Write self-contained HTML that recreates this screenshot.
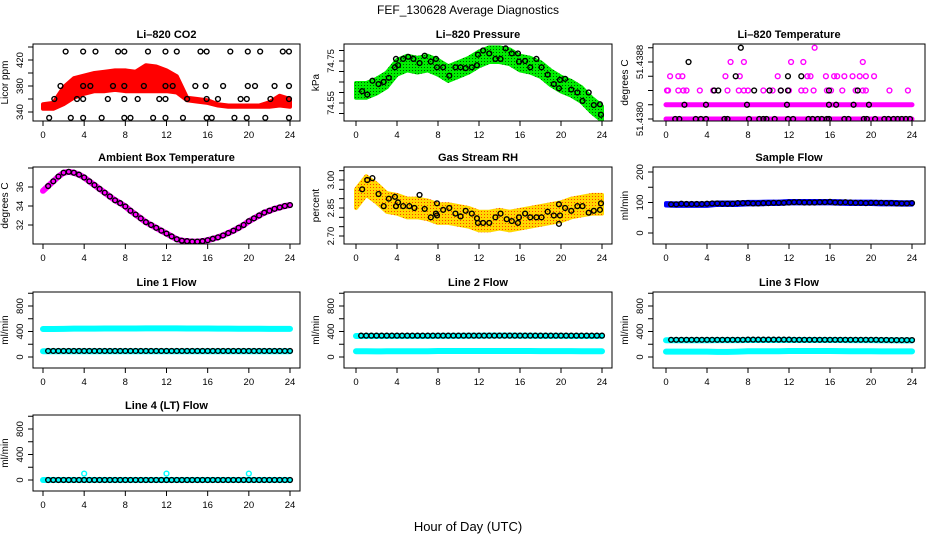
<!DOCTYPE html>
<html><head><meta charset="utf-8">
<style>
html,body{margin:0;padding:0;background:#fff;}
svg{display:block;font-family:"Liberation Sans",Arial,sans-serif;}
</style></head>
<body>
<svg id="chart" width="936" height="540" viewBox="0 0 936 540">
<defs>
<pattern id="dots" width="3" height="3" patternUnits="userSpaceOnUse"><rect width="3" height="3" fill="#00ee00"/><rect x="1" y="1" width="1" height="1" fill="#005500"/></pattern>
<pattern id="rhpat" width="3" height="3" patternUnits="userSpaceOnUse"><rect width="3" height="3" fill="#ffd700"/><rect x="1" y="1" width="1" height="1" fill="#ff4000"/></pattern>
</defs>
<text x="468" y="14" text-anchor="middle" font-size="12">FEF_130628  Average Diagnostics</text>
<text x="468" y="531" text-anchor="middle" font-size="13">Hour of Day (UTC)</text>
</svg>
<script>
// ---------- data ----------
const HOURLY = [0,1,2,3,4,5,6,7,8,9,10,11,12,13,14,15,16,17,18,19,20,21,22,23,24];
const HALF = [0.5,1,1.5,2,2.5,3,3.5,4,4.5,5,5.5,6,6.5,7,7.5,8,8.5,9,9.5,10,10.5,11,11.5,12,12.5,13,13.5,14,14.5,15,15.5,16,16.5,17,17.5,18,18.5,19,19.5,20,20.5,21,21.5,22,22.5,23,23.5,24];
const xTicks = [0,4,8,12,16,20,24];

// CO2
const co2Lo = [345,345,352,362,368,372,372,374,372,372,372,372,372,370,358,356,354,350,348,348,348,348,348,350,348];
const co2Hi = [352,354,378,392,396,400,402,404,404,402,412,410,404,395,362,360,358,352,350,350,350,350,355,365,360];
const co2PtH = [2.2,3.9,5.1,7.3,7.9,10.2,11.9,13,15.3,15.9,18.2,19.9,21.1,23.3,23.9, 1.7,3.9,4.6,6.8,7.9,9.8,11.9,12.6,14.8,15.8,17.5,19.9,20.6,22.5,23.9, 1.1,3.3,3.9,6.3,7.9,9.2,11.3,11.9,14,15.9,17,19.2,19.8,22.1,23.9, 0.6,2.7,3.9,5.7,7.9,8.5,10.7,11.9,13.6,15.9,16.4,18.6,19.8,21.6,23.9];
const co2PtV = [433,433,433,433,433,433,433,433,433,433,433,433,433,433,433, 380,380,380,380,380,380,380,380,380,380,380,380,380,380,380, 360,360,360,360,360,360,360,360,360,360,360,360,360,360,360, 331,331,331,331,331,331,331,331,331,331,331,331,331,331,331];

// Pressure
const presMid = [74.61,74.61,74.63,74.66,74.72,74.74,74.73,74.74,74.72,74.69,74.71,74.73,74.76,74.78,74.78,74.77,74.74,74.73,74.71,74.67,74.64,74.62,74.59,74.54,74.50];
const presPtH = [0.6,1.1,1.6,2.2,2.7,3.2,3.8,3.9,4.1,4.6,5.1,5.6,6.2,6.7,7.3,7.8,7.9,8.5,9.1,9.7,10.2,10.7,11.3,11.8,11.9,12.4,13,13.6,14.1,14.6,15.2,15.8,15.9,16.5,17,17.6,18.1,18.7,19.3,19.8,19.9,20.4,21,21.6,22.1,22.7,23.2,23.8,23.9];
const presPtV = [74.606,74.59,74.656,74.64,74.65,74.67,74.72,74.76,74.73,74.76,74.77,74.76,74.74,74.775,74.747,74.76,74.72,74.72,74.68,74.72,74.72,74.716,74.72,74.73,74.78,74.80,74.786,74.76,74.76,74.81,74.786,74.786,74.747,74.75,74.72,74.76,74.72,74.685,74.64,74.62,74.66,74.665,74.614,74.60,74.56,74.60,74.54,74.544,74.494];

// Li-820 temperature
const ltMagH = [0.1,0.2,1.2,1.7,2.0,3.3,4.6,6,7.1,7.6,8,9.5,10.4,11.2,12,13.2,13.6,14.4,15.7,16.1,17.2,18.5,19.2,19.5,21.8,23.6, 0.4,1.2,1.6,5.8,7.2,10.9,13.8,14.1,15.6,16.4,16.7,17.4,18.2,18.9,19.5,20.3, 6.3,7.6,12.2,13.4,19.2, 14.5];
const ltMagV = [51.4384,51.4384,51.4384,51.4384,51.4384,51.4384,51.4384,51.4384,51.4384,51.4384,51.4384,51.4384,51.4384,51.4384,51.4384,51.4384,51.4384,51.4384,51.4384,51.4384,51.4384,51.4384,51.4384,51.4384,51.4384,51.4384, 51.4386,51.4386,51.4386,51.4386,51.4386,51.4386,51.4386,51.4386,51.4386,51.4386,51.4386,51.4386,51.4386,51.4386,51.4386,51.4386, 51.4388,51.4388,51.4388,51.4388,51.4388, 51.4390];
const ltBlkH = [7.3, 2.2, 6.8,11.9,13.2, 4.7,5.1,8.6,10.1,11.2,11.9,15.9,18.7, 1.8,3.9,7.9,11.8,15.9,16.6,18.3,19.8, 0.9,1.3,2.9,3.4,3.9,5.7,6.0,8.1,9.1,9.5,9.8,10.6,11.9,12.4,13.9,14.3,14.8,15.2,15.7,15.9,17.4,17.8,19.3,19.6,20.4,21.3,21.7,22.2,22.6,23.0,23.4,23.8];
const ltBlkV = [51.4390, 51.4388, 51.4386,51.4386,51.4386, 51.4384,51.4384,51.4384,51.4384,51.4384,51.4384,51.4384,51.4384, 51.4382,51.4382,51.4382,51.4382,51.4382,51.4382,51.4382,51.4382, 51.4380,51.4380,51.4380,51.4380,51.4380,51.4380,51.4380,51.4380,51.4380,51.4380,51.4380,51.4380,51.4380,51.4380,51.4380,51.4380,51.4380,51.4380,51.4380,51.4380,51.4380,51.4380,51.4380,51.4380,51.4380,51.4380,51.4380,51.4380,51.4380,51.4380,51.4380,51.4380];
const ltRowLo = [51.4380,51.4380,51.4380,51.4380,51.4380,51.4380,51.4380,51.4380,51.4380,51.4380,51.4380,51.4380,51.4380,51.4380,51.4380,51.4380,51.4380,51.4380,51.4380,51.4380,51.4380,51.4380,51.4380,51.4380,51.4380];
const ltRowMid = [51.4382,51.4382,51.4382,51.4382,51.4382,51.4382,51.4382,51.4382,51.4382,51.4382,51.4382,51.4382,51.4382,51.4382,51.4382,51.4382,51.4382,51.4382,51.4382,51.4382,51.4382,51.4382,51.4382,51.4382,51.4382];

// Ambient box temperature
const ambH = [0,0.5,1,1.5,2,2.5,3,3.5,4,4.5,5,5.5,6,6.5,7,7.5,8,8.5,9,9.5,10,10.5,11,11.5,12,12.5,13,13.5,14,14.5,15,15.5,16,16.5,17,17.5,18,18.5,19,19.5,20,20.5,21,21.5,22,22.5,23,23.5,24];
const ambV = [35.6,36.1,36.6,37.1,37.5,37.6,37.5,37.3,37.0,36.6,36.2,35.8,35.4,35.0,34.6,34.3,33.95,33.5,33.1,32.7,32.3,32.0,31.7,31.4,31.1,30.8,30.5,30.35,30.3,30.25,30.25,30.3,30.4,30.55,30.7,30.9,31.15,31.4,31.7,32.0,32.4,32.7,33.0,33.3,33.5,33.7,33.85,34.0,34.1];

// Gas stream RH
const rhMid = [2.90,2.97,2.93,2.88,2.87,2.85,2.85,2.84,2.82,2.82,2.81,2.80,2.78,2.78,2.79,2.78,2.79,2.80,2.81,2.82,2.83,2.85,2.86,2.87,2.87];
const rhPtH = [0.6,1.1,1.6,2.2,2.7,3.2,3.8,3.9,4.1,4.6,5.2,5.7,6.2,6.7,7.3,7.8,7.9,7.9,8.5,9.1,9.7,10.2,10.7,11.3,11.8,11.9,12.4,13,13.6,14.1,14.7,15.2,15.8,15.9,16.5,17,17.6,18.1,18.7,19.3,19.8,19.8,19.9,20.4,21,21.6,22.1,22.7,23.2,23.8,23.9];
const rhPtV = [2.95,3.00,3.01,2.925,2.86,2.90,2.91,2.86,2.88,2.86,2.86,2.85,2.92,2.845,2.80,2.82,2.81,2.875,2.84,2.85,2.82,2.805,2.835,2.82,2.795,2.77,2.77,2.77,2.80,2.82,2.79,2.78,2.77,2.80,2.82,2.80,2.80,2.80,2.83,2.81,2.87,2.765,2.81,2.85,2.835,2.86,2.86,2.825,2.835,2.84,2.875];

// Sample flow
const sfBand = [94,93,93,93,93,96,96,96,98,98,99,99,101,101,101,101,101,100,99,99,99,98,98,97,97];
const sfPts = [94,94,96,95,95,95,95,96,97,97,96,96,96,98,98,98,97,97,98,98,99,99,99,100,101,101,100,100,100,101,101,102,100,100,101,100,99,99,98,99,99,99,98,98,97,97,97,98];

// Line flows
const l1Hi = [440,440,442,445,445,446,447,448,448,448,449,449,449,449,448,448,447,446,445,444,443,443,442,442,442];
const l1Lo = [90,90,90,90,90,90,90,90,90,90,90,90,90,90,90,90,90,90,90,90,90,90,90,90,90];
const l1Pts = [95,95,95,95,95,95,95,95,95,95,95,95,95,95,95,95,95,95,95,95,95,95,95,95,95,95,95,95,95,95,95,95,95,95,95,95,95,95,95,95,95,95,95,95,95,95,95,95];
const l2Hi = [330,330,330,330,330,330,330,330,332,332,332,333,333,335,335,335,334,333,332,332,331,330,330,330,330];
const l2Lo = [90,90,88,90,90,90,90,90,95,95,95,95,95,95,95,95,95,95,92,92,92,92,90,90,90];
const l2Pts = [335,335,335,335,335,335,335,335,335,335,335,335,335,335,335,335,335,335,335,335,335,335,335,335,335,335,335,335,335,335,335,335,335,335,335,335,335,335,335,335,335,335,335,335,335,335,335,335];
const l3Hi = [262,262,262,262,262,264,265,265,266,266,266,266,266,266,266,266,266,266,265,264,264,262,262,260,260];
const l3Lo = [85,85,85,85,85,80,80,85,90,90,90,90,95,95,95,95,95,92,90,90,90,88,88,88,88];
const l3Pts = [270,270,270,270,270,270,270,270,270,270,270,270,270,270,270,272,272,272,272,272,272,272,272,272,270,270,270,270,270,270,270,270,270,270,270,270,270,270,270,270,270,268,268,265,265,265,265,265];
const l4Band = [0,0,0,0,0,0,0,0,0,0,0,0,0,0,0,0,0,0,0,0,0,0,0,0,0];
const l4Pts = [0,0,0,0,0,0,0,0,0,0,0,0,0,0,0,0,0,0,0,0,0,0,0,0,0,0,0,0,0,0,0,0,0,0,0,0,0,0,0,0,0,0,0,0,0,0,0,0];
const l4SpikeH = [4,12,20];
const l4SpikeV = [100,100,100];

// ---------- layout ----------
const NS = "http://www.w3.org/2000/svg";
const svg = document.getElementById('chart');
const COLS = [{bx0:33,bx1:300,t0:43,t24:290},{bx0:344,bx1:612,t0:356,t24:602},{bx0:653,bx1:925,t0:666,t24:912}];
const ROWS = [{by0:44,by1:121},{by0:167,by1:244},{by0:292,by1:368},{by0:415,by1:491}];

function mk(tag, attrs, parent){
  const e = document.createElementNS(NS, tag);
  for (const k in attrs) e.setAttribute(k, attrs[k]);
  (parent||svg).appendChild(e);
  return e;
}

function panel(col, row, o){
  const C = COLS[col], R = ROWS[row];
  const g = mk('g', {});
  
  
  const xs = h => C.t0 + (C.t24 - C.t0) * h / 24;
  const ys = v => o.ay0 + (v - o.v0) * (o.ay1 - o.ay0) / (o.v1 - o.v0);
  const cx = (C.bx0 + C.bx1) / 2;
  const t = mk('text', {x:cx, y:R.by0-6, 'text-anchor':'middle', 'font-size':11, 'font-weight':'bold'}, g);
  t.textContent = o.title;
  
  
  const cid = 'clip' + col + row;
  const cp = mk('clipPath', {id:cid}, g);
  mk('rect', {x:C.bx0, y:R.by0, width:C.bx1-C.bx0, height:R.by1-R.by0}, cp);
  const pg = mk('g', {'clip-path':'url(#'+cid+')'}, g);
  
  
  o.draw(pg, xs, ys);
  const box = mk('rect', {x:C.bx0, y:R.by0, width:C.bx1-C.bx0, height:R.by1-R.by0, fill:'none', stroke:'#000', 'stroke-width':1}, g);
  
  
  xTicks.forEach(h => {
    mk('line', {x1:xs(h), x2:xs(h), y1:R.by1, y2:R.by1+5, stroke:'#000'}, g);
    const tl = mk('text', {x:xs(h), y:R.by1+17, 'text-anchor':'middle', 'font-size':9.5}, g);
    tl.textContent = String(h);
    
    
  });
  o.yTicks.forEach((v, i) => {
    const y = ys(v);
    mk('line', {x1:C.bx0-5, x2:C.bx0, y1:y, y2:y, stroke:'#000'}, g);
    const lab = o.yLabels[i];
    if (lab) {
      const tx = C.bx0 - 10;
      const tl = mk('text', {x:tx, y:y, 'text-anchor':'middle', 'font-size':9.5, transform:'rotate(-90 '+tx+' '+y+')'}, g);
      tl.textContent = lab;
      
      
    }
  });
  const yl = C.bx0 - 25, ym = (R.by0 + R.by1) / 2;
  const ylab = mk('text', {x:yl, y:ym, 'text-anchor':'middle', 'font-size':10, transform:'rotate(-90 '+yl+' '+ym+')'}, g);
  ylab.textContent = o.ylab;
  
  
}

function band(g, xs, ys, hrs, lo, hi, fill, name){
  let d = '';
  hrs.forEach((h,i) => { d += (i?'L':'M') + xs(h) + ' ' + ys(hi[i]) + ' '; });
  for (let i = hrs.length-1; i >= 0; i--) d += 'L' + xs(hrs[i]) + ' ' + ys(lo[i]) + ' ';
  const p = mk('path', {d:d+'Z', fill:fill, stroke:fill, 'stroke-width':4, 'stroke-linejoin':'round'}, g);
  
  
}
function thick(g, xs, ys, hrs, vals, color, w, name){
  const pts = hrs.map((h,i) => xs(h) + ',' + ys(vals[i])).join(' ');
  const p = mk('polyline', {points:pts, fill:'none', stroke:color, 'stroke-width':w, 'stroke-linejoin':'round', 'stroke-linecap':'round'}, g);
  
  
}
function pts(g, xs, ys, hrs, vals, color, name){
  hrs.forEach((h,i) => {
    const c = mk('circle', {cx:xs(h), cy:ys(vals[i]), r:2.4, fill:'none', stroke:color, 'stroke-width':1.4}, g);
    
    
  });
}
function off(arr, d){ return arr.map(v => v + d); }

const flowTicks = [0,200,400,600,800,1000];
const flowLabels = ['0','','400','','800',''];

panel(0,0,{name:'co2-panel', title:'Li\u2013820 CO2', ylab:'Licor ppm', v0:340, v1:420, ay0:112, ay1:60,
  yTicks:[340,360,380,400,420,440], yLabels:['340','','380','','420',''],
  draw:(g,xs,ys)=>{ band(g,xs,ys,HOURLY,co2Lo,co2Hi,'#ff0000','co2-cloud'); pts(g,xs,ys,co2PtH,co2PtV,'#000','co2-point'); }});
panel(1,0,{name:'pressure-panel', title:'Li\u2013820 Pressure', ylab:'kPa', v0:74.55, v1:74.75, ay0:103, ay1:61,
  yTicks:[74.50,74.55,74.60,74.65,74.70,74.75,74.80], yLabels:['','74.55','','','','74.75',''],
  draw:(g,xs,ys)=>{ band(g,xs,ys,HOURLY,off(presMid,-0.035),off(presMid,0.035),'url(#dots)','pressure-cloud'); pts(g,xs,ys,presPtH,presPtV,'#000','pressure-point'); }});
panel(2,0,{name:'li820-temp-panel', title:'Li\u2013820 Temperature', ylab:'degrees C', v0:51.4380, v1:51.4388, ay0:119, ay1:62,
  yTicks:[51.4380,51.4382,51.4384,51.4386,51.4388,51.4390], yLabels:['51.4380','','','','51.4388',''],
  draw:(g,xs,ys)=>{ thick(g,xs,ys,HOURLY,ltRowLo,'#ff00ff',5,'temp-row-low'); thick(g,xs,ys,HOURLY,ltRowMid,'#ff00ff',5,'temp-row-mid');
    pts(g,xs,ys,ltMagH,ltMagV,'#ff00ff','temp-point'); pts(g,xs,ys,ltBlkH,ltBlkV,'#000','temp-avg-point'); }});
panel(0,1,{name:'ambient-temp-panel', title:'Ambient Box Temperature', ylab:'degrees C', v0:32, v1:36, ay0:225, ay1:187,
  yTicks:[32,34,36,38], yLabels:['32','34','36',''],
  draw:(g,xs,ys)=>{ thick(g,xs,ys,ambH,ambV,'#ff00ff',6,'ambient-band'); pts(g,xs,ys,ambH.slice(1),ambV.slice(1),'#000','ambient-point'); }});
panel(1,1,{name:'rh-panel', title:'Gas Stream RH', ylab:'percent', v0:2.70, v1:3.00, ay0:236, ay1:180,
  yTicks:[2.70,2.75,2.80,2.85,2.90,2.95,3.00,3.05], yLabels:['2.70','','','2.85','','','3.00',''],
  draw:(g,xs,ys)=>{ band(g,xs,ys,HOURLY,off(rhMid,-0.05),off(rhMid,0.05),'url(#rhpat)','rh-cloud'); pts(g,xs,ys,rhPtH,rhPtV,'#000','rh-point'); }});
panel(2,1,{name:'sample-flow-panel', title:'Sample Flow', ylab:'ml/min', v0:0, v1:200, ay0:233, ay1:172,
  yTicks:[0,50,100,150,200], yLabels:['0','','100','','200'],
  draw:(g,xs,ys)=>{ band(g,xs,ys,HOURLY,off(sfBand,-4),off(sfBand,4),'#0000ff','sample-flow-band'); pts(g,xs,ys,HALF,sfPts,'#000','sample-flow-point'); }});
panel(0,2,{name:'line1-flow-panel', title:'Line 1 Flow', ylab:'ml/min', v0:0, v1:800, ay0:357, ay1:306,
  yTicks:flowTicks, yLabels:flowLabels,
  draw:(g,xs,ys)=>{ thick(g,xs,ys,HOURLY,l1Hi,'#00ffff',6,'line1-high'); thick(g,xs,ys,HOURLY,l1Lo,'#00ffff',6,'line1-low'); pts(g,xs,ys,HALF,l1Pts,'#000','line1-point'); }});
panel(1,2,{name:'line2-flow-panel', title:'Line 2 Flow', ylab:'ml/min', v0:0, v1:800, ay0:357, ay1:306,
  yTicks:flowTicks, yLabels:flowLabels,
  draw:(g,xs,ys)=>{ thick(g,xs,ys,HOURLY,l2Hi,'#00ffff',6,'line2-high'); thick(g,xs,ys,HOURLY,l2Lo,'#00ffff',6,'line2-low'); pts(g,xs,ys,HALF,l2Pts,'#000','line2-point'); }});
panel(2,2,{name:'line3-flow-panel', title:'Line 3 Flow', ylab:'ml/min', v0:0, v1:800, ay0:357, ay1:306,
  yTicks:flowTicks, yLabels:flowLabels,
  draw:(g,xs,ys)=>{ thick(g,xs,ys,HOURLY,l3Hi,'#00ffff',6,'line3-high'); thick(g,xs,ys,HOURLY,l3Lo,'#00ffff',6,'line3-low'); pts(g,xs,ys,HALF,l3Pts,'#000','line3-point'); }});
panel(0,3,{name:'line4-flow-panel', title:'Line 4 (LT) Flow', ylab:'ml/min', v0:0, v1:800, ay0:480, ay1:429,
  yTicks:flowTicks, yLabels:flowLabels,
  draw:(g,xs,ys)=>{ thick(g,xs,ys,HOURLY,l4Band,'#00ffff',6,'line4-band'); pts(g,xs,ys,l4SpikeH,l4SpikeV,'#00ffff','line4-spike'); pts(g,xs,ys,HALF,l4Pts,'#000','line4-point'); }});
</script>
</body></html>
